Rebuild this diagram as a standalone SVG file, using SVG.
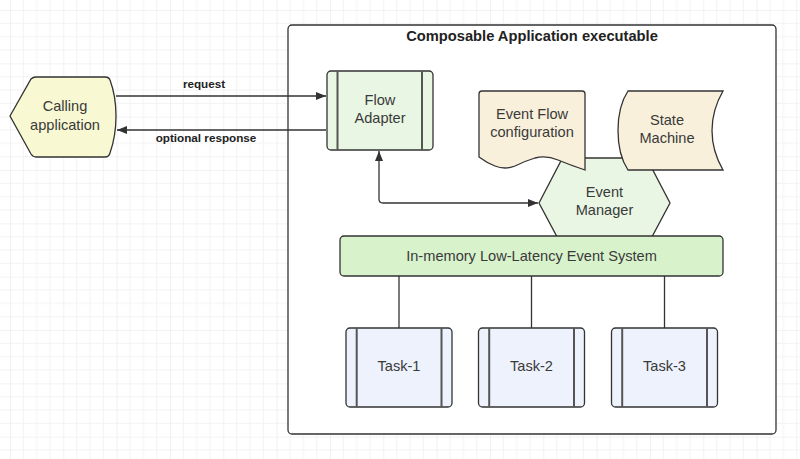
<svg xmlns="http://www.w3.org/2000/svg" width="800" height="459" viewBox="0 0 800 459">
<defs>
<pattern id="grid" patternUnits="userSpaceOnUse" x="10" y="10" width="53.333" height="53.333">
<path d="M13.333 0V53.333M26.667 0V53.333M40 0V53.333M0 13.333H53.333M0 26.667H53.333M0 40H53.333" stroke="#f3f3f3" stroke-width="1" fill="none"/>
<path d="M0 0V53.333M0 0H53.333" stroke="#e8e8e8" stroke-width="1.2" fill="none"/>
</pattern>
<marker id="ah" viewBox="0 0 10 10" refX="10" refY="5" markerWidth="10" markerHeight="10" markerUnits="userSpaceOnUse" orient="auto">
<path d="M0 1L10 5L0 9Z" fill="#333"/>
</marker>
<marker id="ahs" viewBox="0 0 10 10" refX="10" refY="5" markerWidth="10" markerHeight="10" markerUnits="userSpaceOnUse" orient="auto-start-reverse">
<path d="M0 1L10 5L0 9Z" fill="#333"/>
</marker>
</defs>
<style>
.shape{stroke:#333;stroke-width:1.3}
.inner{stroke:#555;stroke-width:2}
.conn{fill:none;stroke:#333;stroke-width:1.3}
.t{font-family:"Liberation Sans",Arial,sans-serif;font-size:14.6px;fill:#3a3a3a;text-anchor:middle}
.b{font-family:"Liberation Sans",Arial,sans-serif;font-size:11.7px;font-weight:bold;fill:#222;text-anchor:middle}
.title{font-family:"Liberation Sans",Arial,sans-serif;font-size:14.7px;font-weight:bold;fill:#222;text-anchor:middle}
.green{fill:#e9f6e3}
.tan{fill:#f8f0da}
.task{fill:#edf2fc}
</style>
<rect width="800" height="459" fill="#ffffff"/>
<rect width="800" height="459" fill="url(#grid)"/>

<g id="container">
<rect x="288" y="25" width="488" height="409" rx="4" fill="#ffffff" class="shape"/>
<text x="532" y="41" class="title">Composable Application executable</text>
</g>

<g id="calling-application">
<path d="M10 116L31 79Q33 77 36 77H105Q109 77 110 80Q116 96 116 116Q116 136 110 153Q109 157 105 157H36Q33 157 31 154Z" fill="#f8f8d2" class="shape"/>
<text x="65" y="111" class="t">Calling</text>
<text x="65" y="130" class="t">application</text>
</g>

<g id="connectors">
<line x1="116" y1="96" x2="326" y2="96" class="conn" marker-end="url(#ah)"/>
<text x="204" y="88" class="b">request</text>
<line x1="326" y1="130" x2="117" y2="130" class="conn" marker-end="url(#ah)"/>
<text x="206" y="142" class="b">optional response</text>
<path d="M379 151V199Q379 203 383 203H538" class="conn" marker-start="url(#ahs)" marker-end="url(#ah)"/>
<line x1="399" y1="276" x2="399" y2="328" class="conn"/>
<line x1="531.5" y1="276" x2="531.5" y2="328" class="conn"/>
<line x1="664.5" y1="276" x2="664.5" y2="328" class="conn"/>
</g>

<g id="flow-adapter">
<rect x="327" y="71" width="106" height="79" rx="4" class="shape green"/>
<line x1="337.5" y1="71" x2="337.5" y2="150" class="inner"/>
<line x1="422" y1="71" x2="422" y2="150" class="inner"/>
<text x="380" y="105" class="t">Flow</text>
<text x="380" y="123" class="t">Adapter</text>
</g>

<g id="event-manager">
<path d="M539 203L562.5 158H646.5L670 203L646 248H563Z" class="shape green"/>
<text x="604.5" y="197" class="t">Event</text>
<text x="604.5" y="215" class="t">Manager</text>
</g>

<g id="event-flow-configuration">
<path d="M482 91H582Q585 91 585 94V170Q570 165 558 160Q546 155 535 158Q525 161 515 166Q505 170 495 166Q487 163 479 157V94Q479 91 482 91Z" class="shape tan"/>
<text x="532" y="119" class="t">Event Flow</text>
<text x="532" y="137" class="t">configuration</text>
</g>

<g id="state-machine">
<path d="M628 91H723Q712 110 712 130.5Q712 151 723 170H628Q618 155 618 130.5Q618 106 628 91Z" class="shape tan"/>
<text x="667" y="125" class="t">State</text>
<text x="667" y="143" class="t">Machine</text>
</g>

<g id="event-system">
<rect x="340" y="236" width="383" height="40" rx="4" fill="#d8f2cc" class="shape"/>
<text x="531.5" y="261" class="t">In-memory Low-Latency Event System</text>
</g>

<g id="task-1">
<rect x="346" y="328" width="106" height="79" rx="4" class="shape task"/>
<line x1="356.7" y1="328" x2="356.7" y2="407" class="inner"/>
<line x1="441.5" y1="328" x2="441.5" y2="407" class="inner"/>
<text x="399" y="371" class="t">Task-1</text>
</g>
<g id="task-2">
<rect x="478.5" y="328" width="106" height="79" rx="4" class="shape task"/>
<line x1="489.2" y1="328" x2="489.2" y2="407" class="inner"/>
<line x1="574" y1="328" x2="574" y2="407" class="inner"/>
<text x="531.5" y="371" class="t">Task-2</text>
</g>
<g id="task-3">
<rect x="611.5" y="328" width="106" height="79" rx="4" class="shape task"/>
<line x1="622.2" y1="328" x2="622.2" y2="407" class="inner"/>
<line x1="707" y1="328" x2="707" y2="407" class="inner"/>
<text x="664.5" y="371" class="t">Task-3</text>
</g>
</svg>
